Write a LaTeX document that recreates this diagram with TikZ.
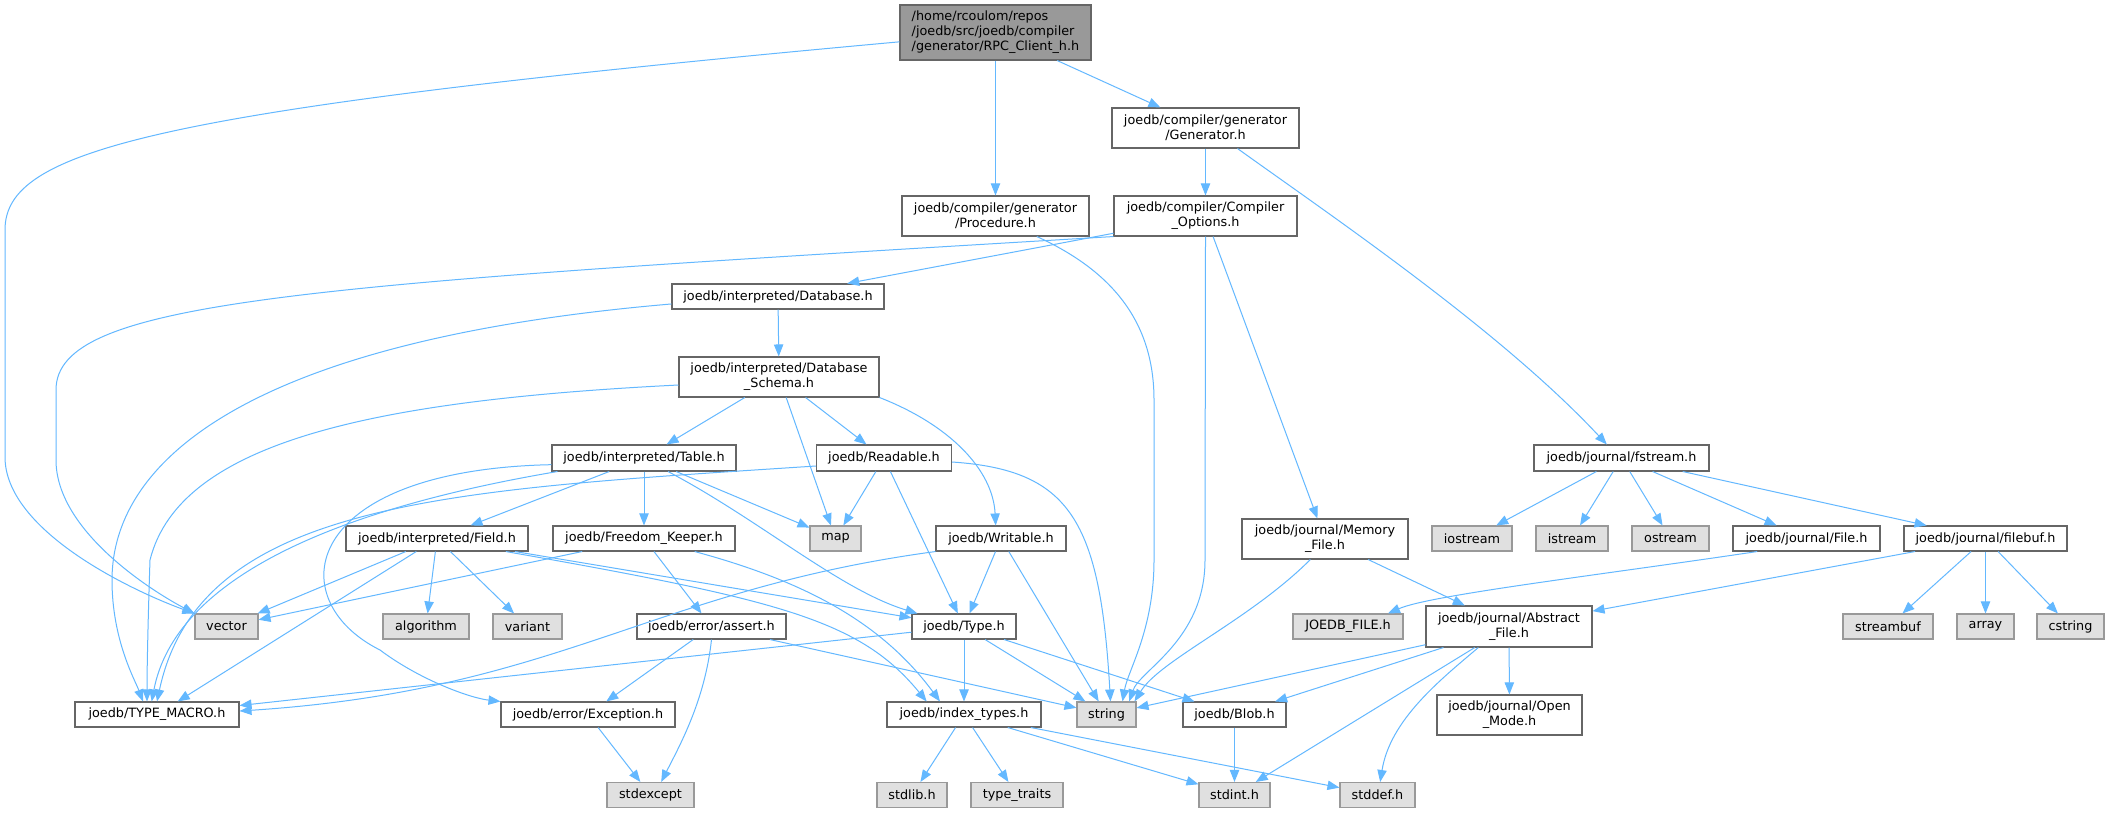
\documentclass[tikz,border=0pt]{standalone}
\usepackage{fontspec}
\setmainfont{DejaVu Sans}
\usetikzlibrary{arrows.meta}
\definecolor{lien}{HTML}{63B8FF}
\definecolor{bord}{HTML}{666666}
\definecolor{bordext}{HTML}{999999}
\definecolor{fondext}{HTML}{E0E0E0}
\definecolor{fondracine}{HTML}{999999}
\begin{document}
\begin{tikzpicture}[x=0.75pt,y=-0.75pt,
    hdr/.style={draw=bord,fill=white,line width=0.8pt,inner sep=0pt,align=center,
      font=\fontsize{9.6pt}{11.25pt}\selectfont,minimum height=18.75pt},
    sys/.style={hdr,draw=bordext,fill=fondext},
    edge/.style={draw=lien,line width=0.75pt,-{Triangle[length=9pt,width=7pt]}}]
    \useasboundingbox (0,0) rectangle (2109,813);
    \fill[white] (0,0) rectangle (2109,813);
    % Racine
    \node[hdr,fill=fondracine,align=left,minimum width=143.25pt,minimum height=41.25pt] (root) at (995.5,32.5)
      {/home/rcoulom/repos\\/joedb/src/joedb/compiler\\/generator/RPC\_Client\_h.h};
    % En-tetes du projet
    \foreach \n/\x/\y/\w/\h/\t in {
      gen/1205.5/128/187/30/{joedb/compiler/generator\\/Generator.h},
      proc/995.5/216/187/30/{joedb/compiler/generator\\/Procedure.h},
      compopt/1205.5/216/183/30/{joedb/compiler/Compiler\\\_Options.h},
      database/778/296.5/212/18.75/{joedb/interpreted/Database.h},
      schema/779/377/200/30/{joedb/interpreted/Database\\\_Schema.h},
      table/644/458/184/19.5/{joedb/interpreted/Table.h},
      readable/884/458/135/19.5/{joedb/Readable.h},
      fstream/1621.5/458/175/19.5/{joedb/journal/fstream.h},
      field/437/538.5/182/18.75/{joedb/interpreted/Field.h},
      freedom/644/538.5/182/18.75/{joedb/Freedom\_Keeper.h},
      writable/1001/538.5/130/18.75/{joedb/Writable.h},
      memfile/1325/539/166/30/{joedb/journal/Memory\\\_File.h},
      file/1806.5/538.5/147/18.75/{joedb/journal/File.h},
      filebuf/1985.5/538.5/163/18.75/{joedb/journal/filebuf.h},
      assert/711.5/626.5/149/18.75/{joedb/error/assert.h},
      type/964/626.5/104/18.75/{joedb/Type.h},
      abstract/1509/626.5/166/30.75/{joedb/journal/Abstract\\\_File.h},
      typemacro/157/714.5/164/18.75/{joedb/TYPE\_MACRO.h},
      exception/588/714.5/174/18.75/{joedb/error/Exception.h},
      index/964/714.5/154/18.75/{joedb/index\_types.h},
      blob/1234.5/714.5/103/18.75/{joedb/Blob.h},
      openmode/1509.5/715/145/30/{joedb/journal/Open\\\_Mode.h}}{
      \node[hdr,minimum width=\w*0.75pt,minimum height=\h pt] (\n) at (\x,\y) {\t};
    }
    % En-tetes systeme
    \foreach \n/\x/\y/\w/\t in {
      map/835.5/538.5/51/map, iostream/1472/538.5/80/iostream,
      istream/1572/538.5/72/istream, ostream/1670.5/538.5/77/ostream,
      vector/226.5/626.5/63/vector, algorithm/426/626.5/86/algorithm,
      variant/527.5/626.5/69/variant, joedbfile/1348/626.5/110/{JOEDB\_FILE.h},
      streambuf/1888/626.5/90/streambuf, array/1985.5/626.5/57/array,
      cstring/2070.5/626.5/67/cstring, string/1106.5/714.5/59/string,
      stdexcept/650.5/795/87/stdexcept, stdlib/912/795/70/{stdlib.h},
      typetraits/1017/795/92/{type\_traits}, stdint/1234.5/795/71/{stdint.h},
      stddef/1377.5/795/75/{stddef.h}}{
      \node[sys,minimum width=\w*0.75pt] (\n) at (\x,\y) {\t};
    }
    % Liens directs
    \foreach \a/\b in {root/proc,root/gen,gen/compopt,compopt/database,compopt/memfile,
      database/schema,schema/table,schema/map,schema/readable,table/field,table/freedom,
      table/map,readable/map,readable/type,field/vector,field/algorithm,field/variant,
      field/typemacro,field/type,freedom/vector,freedom/assert,writable/type,writable/string,
      assert/exception,assert/string,type/typemacro,type/index,type/string,type/blob,
      exception/stdexcept,index/stdlib,index/typetraits,index/stdint,index/stddef,blob/stdint,
      memfile/abstract,fstream/iostream,fstream/istream,fstream/ostream,fstream/file,
      fstream/filebuf,filebuf/abstract,filebuf/streambuf,filebuf/array,filebuf/cstring,
      abstract/string,abstract/blob,abstract/stdint,abstract/openmode}{
      \draw[edge] (\a) -- (\b);
    }
    % Liens courbes
    \draw[edge] ([yshift=-7pt]root.west) .. controls (150,110) and (5,150) .. (5,230)
      -- (5,457) .. controls (5,530) and (130,590) .. (vector.north west);
    \draw[edge] (compopt.south west) .. controls (300,285) and (56,300) .. (56,390)
      -- (56,460) .. controls (56,530) and (150,590) .. (vector.north west);
    \draw[edge] ([xshift=24pt]gen.south) .. controls (1330,215) and (1500,330) .. ([xshift=-11pt]fstream.north);
    \draw[edge] ([xshift=31pt]proc.south) .. controls (1110,270) and (1154,320) .. (1154,400)
      -- (1154,560) .. controls (1154,630) and (1128,670) .. ([xshift=12pt]string.north);
    \draw[edge] (compopt.south) -- (1205,560) .. controls (1205,640) and (1140,670) .. ([xshift=17pt]string.north);
    \draw[edge] ([xshift=-11pt]memfile.south) .. controls (1250,620) and (1160,660) .. ([xshift=21pt]string.north);
    \draw[edge] ([yshift=-5.6pt]database.west) .. controls (250,340) and (112,460) .. (112,580)
      .. controls (112,640) and (135,680) .. ([xshift=-10.5pt]typemacro.north);
    \draw[edge] ([yshift=-6pt]schema.west) .. controls (380,400) and (180,440) .. (150,560)
      .. controls (148,620) and (147,670) .. ([xshift=-7.5pt]typemacro.north);
    \draw[edge] ([xshift=4.5pt]table.south west) .. controls (330,510) and (175,580) .. ([xshift=-4pt]typemacro.north);
    \draw[edge] ([yshift=-6pt]readable.west) .. controls (450,490) and (200,500) .. (typemacro.north);
    \draw[edge] ([yshift=-5pt]table.west) .. controls (300,470) and (280,600) .. (380,650)
      .. controls (420,680) and (470,698) .. (exception.north west);
    \draw[edge] ([xshift=18pt]table.south) .. controls (760,520) and (840,590) .. ([xshift=4.5pt]type.north west);
    \draw[edge] ([yshift=-3pt]readable.east) .. controls (1070,470) and (1100,520) .. ([xshift=3pt]string.north);
    \draw[edge] (schema.south east) .. controls (950,425) and (993,470) .. ([xshift=-4pt]writable.north);
    \draw[edge] ([xshift=-17pt]field.south east) .. controls (780,600) and (860,620) .. ([xshift=-28pt]index.north);
    \draw[edge] ([xshift=38pt]freedom.south) .. controls (800,580) and (880,620) .. ([xshift=-18pt]index.north);
    \draw[edge] (writable.south west) .. controls (650,590) and (560,690) .. ([yshift=2.6pt]typemacro.east);
    \draw[edge] (assert.south) .. controls (705,700) and (680,745) .. ([xshift=8pt]stdexcept.north);
    \draw[edge] ([xshift=-37pt]file.south) .. controls (1600,575) and (1430,595) .. ([xshift=30pt]joedbfile.north);
    \draw[edge] ([xshift=-23pt]abstract.south) .. controls (1440,680) and (1390,720) .. ([xshift=2pt]stddef.north);
  \end{tikzpicture}
\end{document}
